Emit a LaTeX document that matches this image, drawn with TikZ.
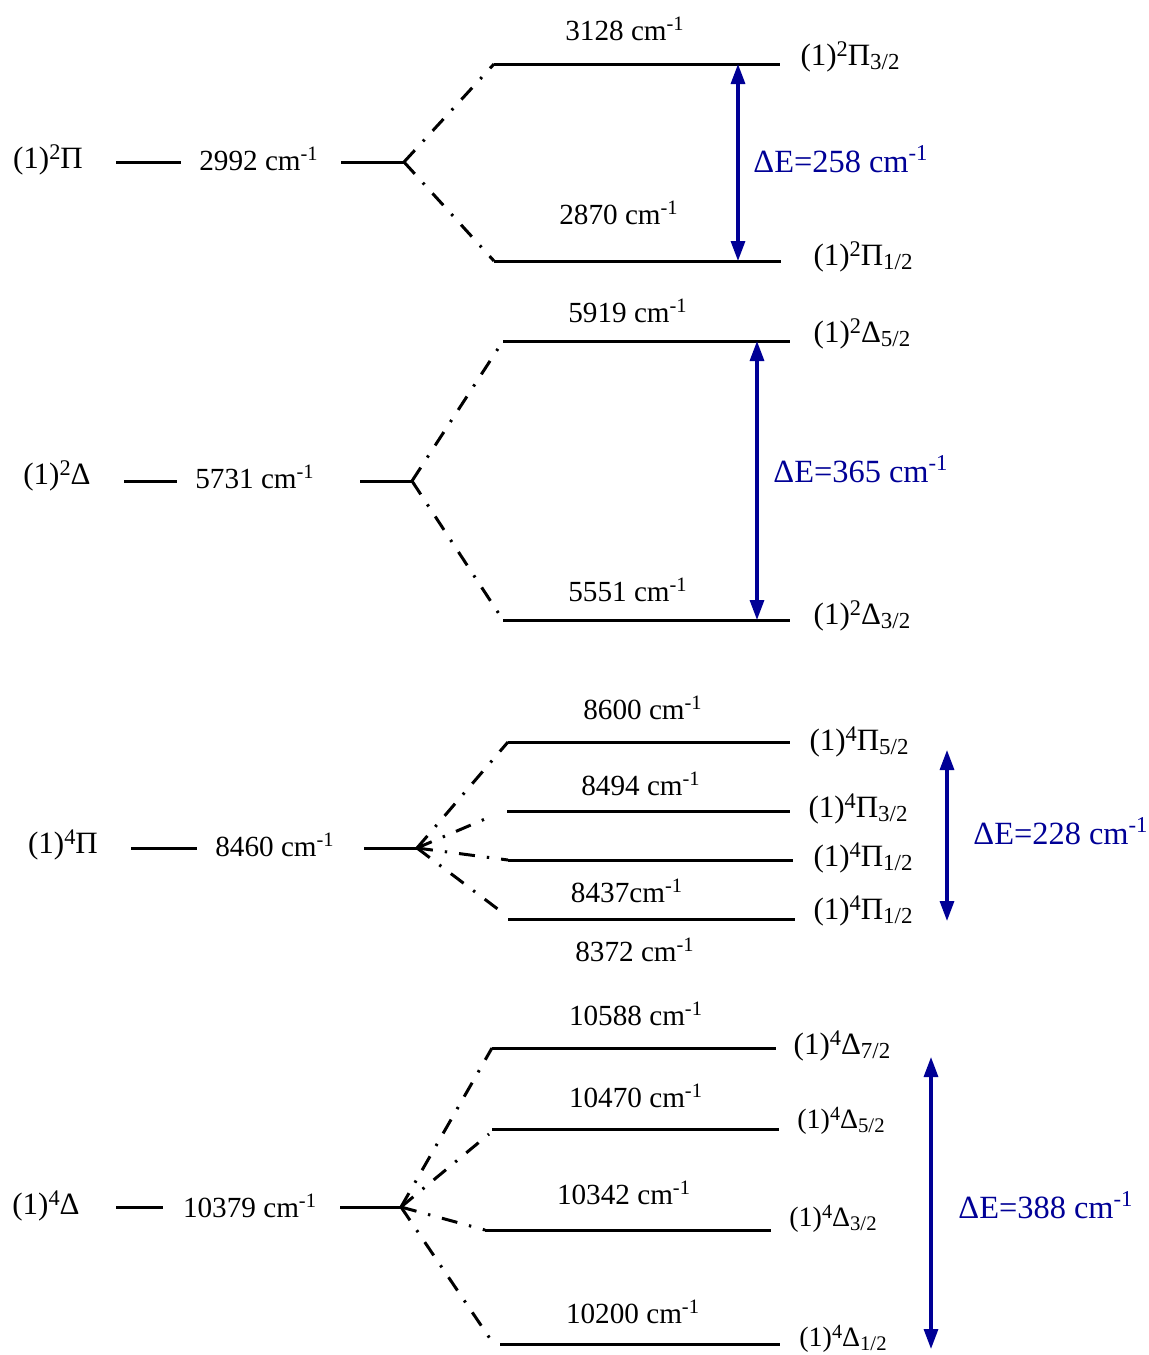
\documentclass[tikz,border=0pt]{standalone}
\usepackage{fontspec}
\usepackage{graphicx}
\setmainfont{Liberation Serif}
\usetikzlibrary{arrows.meta}
\definecolor{gapblue}{RGB}{0,0,150}
% energy value with cm^-1
\newcommand\wn[1]{#1 cm\textsuperscript{-1}}
% term symbol (1)^{mult}X_{Omega}
\newcommand\stlab[3]{(1)\raisebox{0.62ex}{\scalebox{0.72}{#1}}#2\raisebox{-0.28ex}{\scalebox{0.74}{#3}}}
\newcommand\stleft[2]{(1)\raisebox{0.62ex}{\scalebox{0.72}{#1}}#2}
\begin{document}
\begin{tikzpicture}[x=0.5pt,y=-0.5pt,
  level/.style={line width=1.5pt},
  split/.style={line width=1.5pt, dash pattern=on 8pt off 6pt on 1.2pt off 6pt},
  gap/.style={gapblue, line width=1.6pt,
    {Triangle[length=10pt,width=7pt]}-{Triangle[length=10pt,width=7pt]}},
  lbl/.style={font=\fontsize{14.6}{16}\selectfont, inner sep=0pt},
  stt/.style={font=\fontsize{15.5}{17}\selectfont, inner sep=0pt},
  sts/.style={font=\fontsize{14}{16}\selectfont, inner sep=0pt},
  gaplbl/.style={font=\fontsize{16.2}{18}\selectfont, inner sep=0pt, text=gapblue},
]
\useasboundingbox (0,0) rectangle (1149,1355);

% ---------- (1)^2 Pi ----------
\node[stt] (pA) at (48,160) {\stleft{2}{Π}};
\coordinate (pA1) at (116,162); \coordinate (pA2) at (181,162);
\node[lbl] (pAe) at (259,159) {\wn{2992}};
\coordinate (pA3) at (341,162); \coordinate (pAj) at (404,162);
\draw[level] (pA1) -- (pA2);
\draw[level] (pA3) -- (pAj);
\coordinate (pAu1) at (494,64); \coordinate (pAu2) at (780,64);
\coordinate (pAl1) at (494,261); \coordinate (pAl2) at (781,261);
\draw[level] (pAu1) -- (pAu2);
\draw[level] (pAl1) -- (pAl2);
\draw[split] (pAj) -- (pAu1);
\draw[split] (pAj) -- (pAl1);
\node[lbl] (pAue) at (625,29) {\wn{3128}};
\node[lbl] (pAle) at (619,213) {\wn{2870}};
\node[stt] (pAus) at (850,57) {\stlab{2}{Π}{3/2}};
\node[stt] (pAls) at (863,257) {\stlab{2}{Π}{1/2}};
\draw[gap] (738,64) coordinate (pAg1) -- (738,261) coordinate (pAg2);
\node[gaplbl] (pAd) at (841,159) {ΔE=\wn{258}};

% ---------- (1)^2 Delta ----------
\node[stt] (dA) at (57,476) {\stleft{2}{Δ}};
\coordinate (dA1) at (124,481); \coordinate (dA2) at (177,481);
\node[lbl] (dAe) at (255,477) {\wn{5731}};
\coordinate (dA3) at (360,481); \coordinate (dAj) at (412,481);
\draw[level] (dA1) -- (dA2);
\draw[level] (dA3) -- (dAj);
\coordinate (dAu1) at (503,341); \coordinate (dAu2) at (790,341);
\coordinate (dAl1) at (503,620); \coordinate (dAl2) at (790,620);
\draw[level] (dAu1) -- (dAu2);
\draw[level] (dAl1) -- (dAl2);
\draw[split] (dAj) -- (dAu1);
\draw[split] (dAj) -- (dAl1);
\node[lbl] (dAue) at (628,311) {\wn{5919}};
\node[lbl] (dAle) at (628,590) {\wn{5551}};
\node[stt] (dAus) at (862,334) {\stlab{2}{Δ}{5/2}};
\node[stt] (dAls) at (862,616) {\stlab{2}{Δ}{3/2}};
\draw[gap] (757,341) coordinate (dAg1) -- (757,620) coordinate (dAg2);
\node[gaplbl] (dAd) at (861,469) {ΔE=\wn{365}};

% ---------- (1)^4 Pi ----------
\node[stt] (pB) at (63,845) {\stleft{4}{Π}};
\coordinate (pB1) at (131,848); \coordinate (pB2) at (197,848);
\node[lbl] (pBe) at (275,845) {\wn{8460}};
\coordinate (pB3) at (364,848); \coordinate (pBj) at (417,848);
\draw[level] (pB1) -- (pB2);
\draw[level] (pB3) -- (pBj);
\coordinate (pBa1) at (508,742); \coordinate (pBa2) at (790,742);
\coordinate (pBb1) at (507,811); \coordinate (pBb2) at (790,811);
\coordinate (pBc1) at (508,860); \coordinate (pBc2) at (793,860);
\coordinate (pBd1) at (508,919); \coordinate (pBd2) at (795,919);
\coordinate (pBbx) at (492,816); \coordinate (pBdx) at (503,913);
\draw[level] (pBa1) -- (pBa2);
\draw[level] (pBb1) -- (pBb2);
\draw[level] (pBc1) -- (pBc2);
\draw[level] (pBd1) -- (pBd2);
\draw[split] (pBj) -- (pBa1);
\draw[split] (pBj) -- (pBbx);
\draw[split] (pBj) -- (pBc1);
\draw[split] (pBj) -- (pBdx);
\node[lbl] (pBae) at (643,708) {\wn{8600}};
\node[lbl] (pBbe) at (641,784) {\wn{8494}};
\node[lbl] (pBce) at (627,891) {8437cm\textsuperscript{-1}};
\node[lbl] (pBde) at (635,950) {\wn{8372}};
\node[stt] (pBas) at (859,742) {\stlab{4}{Π}{5/2}};
\node[stt] (pBbs) at (858,809) {\stlab{4}{Π}{3/2}};
\node[stt] (pBcs) at (863,858) {\stlab{4}{Π}{1/2}};
\node[stt] (pBds) at (863,911) {\stlab{4}{Π}{1/2}};
\draw[gap] (947,750) coordinate (pBg1) -- (947,921) coordinate (pBg2);
\node[gaplbl] (pBd) at (1061,831) {ΔE=\wn{228}};

% ---------- (1)^4 Delta ----------
\node[stt] (dB) at (46,1206) {\stleft{4}{Δ}};
\coordinate (dB1) at (116,1207); \coordinate (dB2) at (163,1207);
\node[lbl] (dBe) at (250,1206) {\wn{10379}};
\coordinate (dB3) at (340,1207); \coordinate (dBj) at (401,1207);
\draw[level] (dB1) -- (dB2);
\draw[level] (dB3) -- (dBj);
\coordinate (dBa1) at (492,1048); \coordinate (dBa2) at (776,1048);
\coordinate (dBb1) at (492,1129); \coordinate (dBb2) at (779,1129);
\coordinate (dBc1) at (485,1230); \coordinate (dBc2) at (771,1230);
\coordinate (dBd1) at (500,1344); \coordinate (dBd2) at (780,1344);
\coordinate (dBbx) at (489,1134); \coordinate (dBdx) at (493,1343);
\draw[level] (dBa1) -- (dBa2);
\draw[level] (dBb1) -- (dBb2);
\draw[level] (dBc1) -- (dBc2);
\draw[level] (dBd1) -- (dBd2);
\draw[split] (dBj) -- (dBa1);
\draw[split] (dBj) -- (dBbx);
\draw[split] (dBj) -- (dBc1);
\draw[split] (dBj) -- (dBdx);
\node[lbl] (dBae) at (636,1014) {\wn{10588}};
\node[lbl] (dBbe) at (636,1096) {\wn{10470}};
\node[lbl] (dBce) at (624,1193) {\wn{10342}};
\node[lbl] (dBde) at (633,1312) {\wn{10200}};
\node[stt] (dBas) at (842,1046) {\stlab{4}{Δ}{7/2}};
\node[sts] (dBbs) at (841,1121) {\stlab{4}{Δ}{5/2}};
\node[sts] (dBcs) at (833,1219) {\stlab{4}{Δ}{3/2}};
\node[sts] (dBds) at (843,1339) {\stlab{4}{Δ}{1/2}};
\draw[gap] (931,1057) coordinate (dBg1) -- (931,1349) coordinate (dBg2);
\node[gaplbl] (dBd) at (1046,1205) {ΔE=\wn{388}};
\end{tikzpicture}
\end{document}
